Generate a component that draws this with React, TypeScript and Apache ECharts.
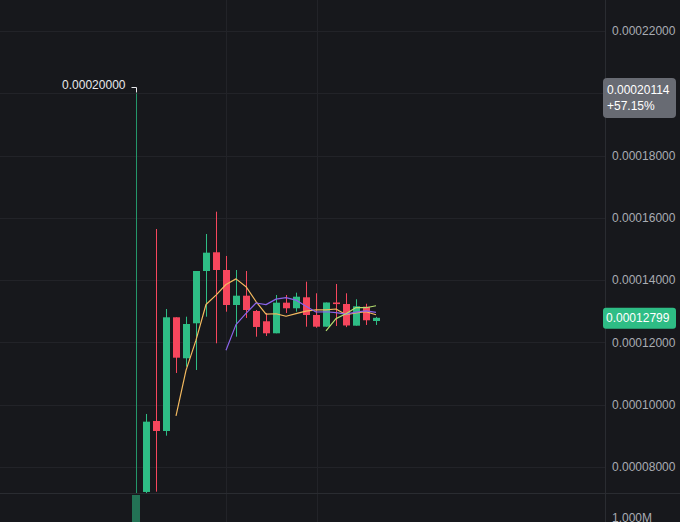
import React, { useEffect, useRef } from "react";
import * as echarts from "echarts";

// ---------- data (prices in quote units) ----------
const opens = [
  0.000041, 0.00007208, 0.00009487, 0.00009166, 0.00012816, 0.000115, 0.00012623, 0.00014302,
  0.00014903, 0.00014334, 0.00013211, 0.00013509, 0.00013018, 0.00012688, 0.00012302, 0.00013285,
  0.00013105, 0.00013458, 0.0001289, 0.00012514, 0.00013291, 0.00013243, 0.00012546, 0.00013156,
  0.00012697,
];
const closes = [
  0.000053, 0.00009465, 0.00009166, 0.00012816, 0.00011519, 0.00012601, 0.00014302, 0.0001489,
  0.00014334, 0.00013211, 0.00013509, 0.0001305, 0.00012505, 0.00012302, 0.00013285, 0.00013105,
  0.00013477, 0.0001289, 0.00012514, 0.00013291, 0.0001324, 0.00012553, 0.00013169, 0.0001272,
  0.00012799,
];
const lows = [
  0.00004, 0.0000715, 0.00007218, 0.00009015, 0.00011028, 0.0001123, 0.00011124, 0.00012835,
  0.00011981, 0.00012996, 0.00012193, 0.00012794, 0.00012193, 0.00012216, 0.00012302, 0.00012954,
  0.00012996, 0.00012514, 0.0001248, 0.00012514, 0.00012537, 0.000125, 0.00012546, 0.00012569,
  0.00012569,
];
const highs = [
  0.0002, 0.00009712, 0.0001565, 0.00013082, 0.00012816, 0.00012835, 0.00014302, 0.0001549,
  0.00016206, 0.00014784, 0.00014334, 0.00014302, 0.0001305, 0.00012954, 0.00013532, 0.00013532,
  0.00013606, 0.00013959, 0.00013586, 0.00013291, 0.00013885, 0.00013586, 0.00013394, 0.0001325,
  0.0001283,
];
const volumes = [
  1575000, 620000, 540000, 480000, 300000, 260000, 380000, 310000, 420000, 260000, 220000, 180000,
  170000, 140000, 160000, 120000, 130000, 150000, 120000, 140000, 110000, 120000, 100000, 90000,
  40000,
];
const ma5Start = 4;
const ma5 = [
  0.00009653, 0.00011113, 0.00012081, 0.00013226, 0.00013529, 0.00013868, 0.00014049, 0.00013799,
  0.00013322, 0.00012915, 0.0001293, 0.00012849, 0.00012935, 0.00013012, 0.00013054, 0.00013055,
  0.00013082, 0.00012898, 0.00012953, 0.00012995, 0.00012896,
];
const ma10Start = 9;
const ma10 = [
  0.0001176, 0.00012581, 0.0001294, 0.00013274, 0.00013222, 0.00013399, 0.00013449, 0.00013367,
  0.00013167, 0.00012985, 0.00012993, 0.00012966, 0.00012916, 0.00012983, 0.00013024, 0.00012976,
];
const ma20Start = 19;
const ma20 = [0.00012377, 0.00012774, 0.00012928, 0.00013128, 0.00013123, 0.00013187];
const alertPrice = 0.00020114;
const timeGridX = [9, 18.1];

// ---------- styles / layout ----------
const BG = "#17181c";
const UP = "#2ebd85";
const UP_FIRST_WICK = "#24966a";
const DOWN = "#f6465d";
const GRID = "#222328";
const AXIS_LINE = "#2a2c31";
const LABEL = "#a9acb3";
const FONT = "Liberation Sans, Arial, sans-serif";
const MA5_C = "#f3b95f";
const MA10_C = "#8a63e8";
const MA20_C = "#b4dd6e";

const W = 680;
const H = 522;
const PLOT_W = 605;
const PANE_BOTTOM = 493;
const LABEL_MIN = 0.00006;
const LABEL_MAX = 0.00024;
const LABEL_STEP = 0.00002;
const LABEL_TOP = -31.1;
const LABEL_H = 560.7;
const UNITS_PER_PX = (LABEL_MAX - LABEL_MIN) / LABEL_H;
const PRICE_MAX = LABEL_MAX + LABEL_TOP * UNITS_PER_PX;
const PRICE_MIN = LABEL_MAX - (PANE_BOTTOM - LABEL_TOP) * UNITS_PER_PX;
const X_MIN = -13.6;
const X_MAX = 46.9;
const BODY_W = 7;

export default function App() {
  const ref = useRef<HTMLDivElement>(null);

  useEffect(() => {
    if (!ref.current) return;
    const chart = echarts.init(ref.current, null, { renderer: "svg" });

    const candleData = opens.map((o, i) => [i, o, closes[i], lows[i], highs[i]]);
    const volData = volumes.map((v, i) => ({
      value: [i, v],
      itemStyle: {
        color: closes[i] >= opens[i] ? "rgba(46,189,133,0.55)" : "rgba(246,70,93,0.55)",
      },
    }));
    const lastClose = closes[closes.length - 1];

    const vGrid = timeGridX.map((x) => ({
      xAxis: x,
      lineStyle: { color: GRID, type: "solid", width: 1 },
    }));

    const gridBase = { left: 0, width: PLOT_W, outerBoundsMode: "none", containLabel: false };

    const renderCandle = (params: any, api: any) => {
      const i = api.value(0);
      const o = api.value(1);
      const c = api.value(2);
      const l = api.value(3);
      const h = api.value(4);
      const cs = params.coordSys;
      const top = cs.y;
      const bottom = cs.y + cs.height;
      const clampY = (y: number) => Math.max(top, Math.min(bottom, y));
      const pO = api.coord([i, o]);
      const pC = api.coord([i, c]);
      const pL = api.coord([i, l]);
      const pH = api.coord([i, h]);
      const up = c >= o;
      const color = up ? UP : DOWN;
      const xc = Math.round(pO[0]);
      const yH = clampY(pH[1]);
      const yL = clampY(pL[1]);
      const y1 = clampY(Math.min(pO[1], pC[1]));
      const y2 = clampY(Math.max(pO[1], pC[1]));
      const children: any[] = [];
      if (yL > yH) {
        children.push({
          type: "line",
          shape: { x1: xc + 0.5, y1: yH, x2: xc + 0.5, y2: yL },
          style: { stroke: params.dataIndex === 0 ? UP_FIRST_WICK : color, lineWidth: 1 },
        });
      }
      if (y2 > y1 || (y1 > top && y1 < bottom)) {
        children.push({
          type: "rect",
          shape: {
            x: xc - (BODY_W - 1) / 2,
            y: y1,
            width: BODY_W,
            height: Math.max(y2 - y1, 1),
          },
          style: { fill: color },
        });
      }
      return { type: "group", children };
    };

    chart.setOption({
      animation: false,
      backgroundColor: BG,
      grid: [
        { ...gridBase, top: 0, height: PANE_BOTTOM },
        { ...gridBase, top: LABEL_TOP, height: LABEL_H },
        { ...gridBase, top: PANE_BOTTOM, height: 65 },
      ],
      xAxis: [
        { type: "value", gridIndex: 0, min: X_MIN, max: X_MAX, show: false },
        { type: "value", gridIndex: 1, min: X_MIN, max: X_MAX, show: false },
        { type: "value", gridIndex: 2, min: X_MIN, max: X_MAX, show: false },
      ],
      yAxis: [
        { type: "value", gridIndex: 0, min: PRICE_MIN, max: PRICE_MAX, show: false, scale: true },
        {
          type: "value",
          gridIndex: 1,
          position: "right",
          min: LABEL_MIN,
          max: LABEL_MAX,
          interval: LABEL_STEP,
          axisLine: { show: true, onZero: false, lineStyle: { color: AXIS_LINE } },
          axisTick: { show: false },
          splitLine: { show: true, lineStyle: { color: GRID, width: 1 } },
          axisLabel: {
            color: LABEL,
            fontSize: 12,
            fontFamily: FONT,
            margin: 7,
            showMinLabel: false,
            showMaxLabel: false,
            // the 0.00020000 label sits under the alert-price tag in the original
            formatter: (v: number) =>
              Math.abs(v - 0.0002) < 1e-10 ? "" : v.toFixed(8),
          },
        },
        {
          type: "value",
          gridIndex: 2,
          position: "right",
          min: 0,
          max: 1625000,
          interval: 1000000,
          axisLine: { show: true, onZero: false, lineStyle: { color: AXIS_LINE } },
          axisTick: { show: false },
          splitLine: { show: false },
          axisLabel: {
            color: LABEL,
            fontSize: 12,
            fontFamily: FONT,
            margin: 7,
            showMinLabel: false,
            showMaxLabel: false,
            formatter: (v: number) => (v / 1000000).toFixed(3) + "M",
          },
        },
      ],
      series: [
        {
          type: "custom",
          xAxisIndex: 0,
          yAxisIndex: 0,
          encode: { x: 0, y: [1, 2, 3, 4] },
          data: candleData,
          renderItem: renderCandle,
          clip: true,
          z: 3,
          markLine: {
            silent: true,
            z: 1,
            symbol: ["none", "none"],
            label: { show: false },
            data: [
              { yAxis: alertPrice, lineStyle: { color: "#7c7f87", type: [4, 4], width: 1 } },
              { yAxis: lastClose, lineStyle: { color: UP, type: [2, 3], width: 1 } },
              ...vGrid,
            ],
          },
        },
        {
          type: "line",
          xAxisIndex: 0,
          yAxisIndex: 0,
          data: ma5.map((v, k) => [ma5Start + k, v]),
          showSymbol: false,
          symbol: "none",
          z: 4,
          lineStyle: { color: MA5_C, width: 1.2 },
        },
        {
          type: "line",
          xAxisIndex: 0,
          yAxisIndex: 0,
          data: ma10.map((v, k) => [ma10Start + k, v]),
          showSymbol: false,
          symbol: "none",
          z: 4,
          lineStyle: { color: MA10_C, width: 1.2 },
        },
        {
          type: "line",
          xAxisIndex: 0,
          yAxisIndex: 0,
          data: ma20.map((v, k) => [ma20Start + k, v]),
          showSymbol: false,
          symbol: "none",
          z: 4,
          lineStyle: { color: MA20_C, width: 1.2 },
        },
        {
          type: "bar",
          xAxisIndex: 2,
          yAxisIndex: 2,
          barWidth: 8,
          data: volData,
          z: 3,
          markLine: {
            silent: true,
            z: 1,
            symbol: ["none", "none"],
            label: { show: false },
            data: vGrid,
          },
        },
      ],
    });

    const [hx, hy] = chart.convertToPixel({ seriesIndex: 0 }, [0, highs[0]]) as number[];
    const alertY = (chart.convertToPixel({ seriesIndex: 0 }, [0, alertPrice]) as number[])[1];
    const lastY = (chart.convertToPixel({ seriesIndex: 0 }, [0, lastClose]) as number[])[1];
    const pct = ((alertPrice / lastClose - 1) * 100).toFixed(2);
    const hxc = Math.round(hx) + 0.5;

    chart.setOption({
      graphic: [
        {
          type: "line",
          z: 50,
          shape: { x1: 0, y1: PANE_BOTTOM + 0.5, x2: W, y2: PANE_BOTTOM + 0.5 },
          style: { stroke: AXIS_LINE, lineWidth: 1 },
        },
        {
          type: "text",
          z: 60,
          x: hxc - 11,
          y: hy - 8.5,
          style: {
            text: highs[0].toFixed(8),
            fill: "#e8e9ec",
            font: `12px ${FONT}`,
            align: "right",
            verticalAlign: "middle",
          },
        },
        {
          type: "polyline",
          z: 60,
          shape: {
            points: [
              [hxc - 5, hy - 6],
              [hxc, hy - 6],
              [hxc, hy - 1],
            ],
          },
          style: { stroke: "#e8e9ec", lineWidth: 1, fill: "none" },
        },
        {
          type: "rect",
          z: 60,
          shape: { x: 603, y: alertY - 12, width: 73, height: 40, r: 4 },
          style: { fill: "#686b73" },
        },
        {
          type: "text",
          z: 61,
          x: 607,
          y: alertY,
          style: {
            text: alertPrice.toFixed(8),
            fill: "#ffffff",
            font: `12px ${FONT}`,
            align: "left",
            verticalAlign: "middle",
          },
        },
        {
          type: "text",
          z: 61,
          x: 607,
          y: alertY + 16.5,
          style: {
            text: "+" + pct + "%",
            fill: "#ffffff",
            font: `12px ${FONT}`,
            align: "left",
            verticalAlign: "middle",
          },
        },
        {
          type: "rect",
          z: 60,
          shape: { x: 603, y: lastY - 10, width: 73, height: 21, r: 3 },
          style: { fill: UP },
        },
        {
          type: "text",
          z: 61,
          x: 606,
          y: lastY + 0.5,
          style: {
            text: lastClose.toFixed(8),
            fill: "#ffffff",
            font: `12px ${FONT}`,
            align: "left",
            verticalAlign: "middle",
          },
        },
      ],
    });

    return () => chart.dispose();
  }, []);

  return (
    <div
      ref={ref}
      style={{ position: "fixed", left: 0, top: 0, width: W, height: H }}
    />
  );
}
